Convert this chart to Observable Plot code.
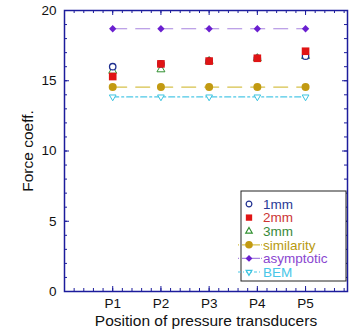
<!DOCTYPE html>
<html>
<head>
<meta charset="utf-8">
<script src="https://cdn.jsdelivr.net/npm/d3@7"></script>
<script src="https://cdn.jsdelivr.net/npm/@observablehq/plot@0.6"></script>
<style>
  body { margin: 0; background: #fff; }
  #chart svg { display: block; }
</style>
</head>
<body>
<div id="chart"></div>
<script>
// Transducer positions and their tick labels
const positions = [1, 2, 3, 4, 5];
const positionLabels = ["P1", "P2", "P3", "P4", "P5"];

// Measured force coefficients per gap size
const gap1mm = [16.0, 16.2, 16.4, 16.6, 16.75];
const gap2mm = [15.3, 16.2, 16.4, 16.6, 17.1];
const gap3mm = [15.7, 15.8, 16.4, 16.6, 16.75];

// Theoretical / numerical estimates
const similarity = [14.55, 14.55, 14.55, 14.55, 14.55];
const asymptotic = [18.7, 18.7, 18.7, 18.7, 18.7];
const bem = [13.85, 13.85, 13.85, 13.85, 13.85];

// Axis ticks
const yMajor = [0, 5, 10, 15, 20];
const yMinor = d3.range(0, 20.01, 1);
const xMinor = d3.range(0, 5.87, 0.2);

const series = [
  {name: "1mm", values: gap1mm},
  {name: "2mm", values: gap2mm},
  {name: "3mm", values: gap3mm},
  {name: "similarity", values: similarity},
  {name: "asymptotic", values: asymptotic},
  {name: "BEM", values: bem}
];
const rows = s => positions.map((p, i) => ({x: p, y: s.values[i]}));
const data = Object.fromEntries(series.map(s => [s.name, rows(s)]));

const frameColor = "#1c1c9c";
const W = 357, H = 332;
const margin = {left: 64, right: 10, top: 10, bottom: 41};
const innerW = W - margin.left - margin.right;
const innerH = H - margin.top - margin.bottom;

const chart = Plot.plot({
  width: W,
  height: H,
  marginLeft: margin.left,
  marginRight: margin.right,
  marginTop: margin.top,
  marginBottom: margin.bottom,
  style: {fontFamily: "Liberation Sans, Arial, sans-serif", fontSize: "13.5px", color: "#111"},
  x: {domain: [0, 5.87]},
  y: {domain: [0, 20]},
  marks: [
    // inward ticks on all four sides
    Plot.tickX(positions, {x: d => d, insetTop: innerH - 5, stroke: frameColor}),
    Plot.tickX(positions, {x: d => d, insetBottom: innerH - 5, stroke: frameColor}),
    Plot.tickX(xMinor, {x: d => d, insetTop: innerH - 3, stroke: frameColor}),
    Plot.tickX(xMinor, {x: d => d, insetBottom: innerH - 3, stroke: frameColor}),
    Plot.tickY(yMajor, {y: d => d, insetRight: innerW - 5, stroke: frameColor}),
    Plot.tickY(yMajor, {y: d => d, insetLeft: innerW - 5, stroke: frameColor}),
    Plot.tickY(yMinor, {y: d => d, insetRight: innerW - 3, stroke: frameColor}),
    Plot.tickY(yMinor, {y: d => d, insetLeft: innerW - 3, stroke: frameColor}),
    Plot.axisX({
      ticks: positions, tickFormat: d => positionLabels[d - 1], tickSize: 0, tickPadding: 7,
      fontSize: 13.5, label: null
    }),
    Plot.axisX({
      ticks: [], tickSize: 0, fontSize: 15.5,
      label: "Position of pressure transducers", labelAnchor: "center",
      labelArrow: "none", labelOffset: 34
    }),
    Plot.axisY({
      ticks: yMajor, tickSize: 0, tickPadding: 8, fontSize: 13.5, label: null
    }),
    Plot.axisY({
      ticks: [], tickSize: 0, fontSize: 15.5,
      label: "Force coeff.", labelAnchor: "center", labelArrow: "none", labelOffset: 43
    }),
    // model curves
    Plot.line(data.similarity, {x: "x", y: "y", stroke: "#d6c14a", strokeWidth: 1.2, strokeDasharray: "14,9"}),
    Plot.line(data.asymptotic, {x: "x", y: "y", stroke: "#a884e0", strokeWidth: 1.2, strokeDasharray: "14,9"}),
    Plot.line(data.BEM, {x: "x", y: "y", stroke: "#4cc8e6", strokeWidth: 1.2, strokeDasharray: "6,3,2,3"}),
    Plot.dot(data.similarity, {x: "x", y: "y", r: 4, fill: "#c29a12", stroke: "none"}),
    Plot.dot(data.asymptotic, {x: "x", y: "y", symbol: "diamond2", r: 3.3, fill: "#6a1fd0", stroke: "none"}),
    Plot.dot(data.BEM, {x: "x", y: "y", symbol: "triangle2", rotate: 180, r: 3.2, stroke: "#3cc4e0", fill: "white", strokeWidth: 1}),
    // measurements
    Plot.dot(data["3mm"], {x: "x", y: "y", symbol: "triangle2", r: 3.8, stroke: "#2f8f2f", fill: "white", strokeWidth: 1}),
    Plot.dot(data["1mm"], {x: "x", y: "y", r: 3.2, stroke: "#1f2f8f", fill: "white", strokeWidth: 1.3}),
    Plot.dot(data["2mm"], {x: "x", y: "y", symbol: "square", r: 4.3, fill: "#e01414", stroke: "none"}),
    Plot.frame({stroke: frameColor, strokeWidth: 1.5})
  ]
});

document.getElementById("chart").append(chart);

// Legend box drawn inside the plot area
const svg = d3.select(chart);
const legendItems = [
  {name: "1mm", color: "#2a3a96", symbol: d3.symbolCircle, size: 26, fill: "white", stroke: "#1f2f8f"},
  {name: "2mm", color: "#cc3434", symbol: d3.symbolSquare, size: 40, fill: "#e01414", stroke: "none"},
  {name: "3mm", color: "#3a8a3a", symbol: d3.symbolTriangle2, size: 30, fill: "white", stroke: "#2f8f2f"},
  {name: "similarity", color: "#b89a10", symbol: d3.symbolCircle, size: 45, fill: "#c29a12", stroke: "none", line: "#d6c14a", dash: "1,3,18"},
  {name: "asymptotic", color: "#8a46d0", symbol: d3.symbolDiamond2, size: 30, fill: "#6a1fd0", stroke: "none", line: "#a884e0", dash: "1,3,18"},
  {name: "BEM", color: "#48c6e8", symbol: d3.symbolTriangle2, size: 24, fill: "white", stroke: "#3cc4e0", line: "#4cc8e6", dash: "3,2,1,2", rotate: 180}
];
const lg = svg.append("g").attr("transform", "translate(241,191)");
lg.append("rect").attr("width", 105).attr("height", 90)
  .attr("fill", "white").attr("stroke", "#222").attr("stroke-width", 1);
legendItems.forEach((it, i) => {
  const cy = 13 + i * 13.6;
  const g = lg.append("g").attr("transform", `translate(0,${cy})`);
  if (it.line) {
    g.append("line").attr("x1", -3).attr("x2", 21).attr("y1", 0).attr("y2", 0)
      .attr("stroke", it.line).attr("stroke-width", 1.2).attr("stroke-dasharray", it.dash);
  }
  g.append("path").attr("transform", `translate(8,0) rotate(${it.rotate || 0})`)
    .attr("d", d3.symbol(it.symbol, it.size)())
    .attr("fill", it.fill).attr("stroke", it.stroke).attr("stroke-width", 1.2);
  g.append("text").attr("x", 22).attr("y", 0).attr("dy", "0.35em")
    .attr("text-anchor", "start")
    .attr("font-size", 13.5).attr("fill", it.color).text(it.name);
});
</script>
</body>
</html>
